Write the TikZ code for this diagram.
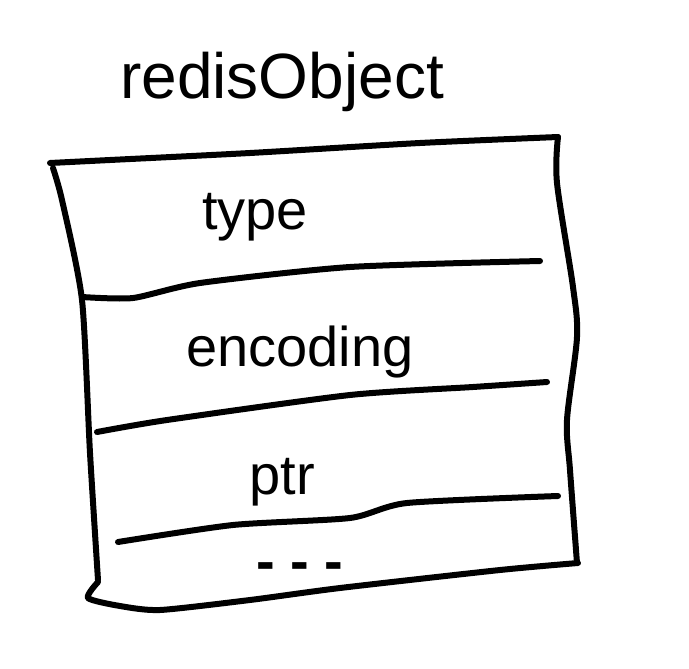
\documentclass[tikz,border=0pt]{standalone}
\usepackage{fontspec}
\setmainfont{Liberation Sans}
\usetikzlibrary{positioning}

\begin{document}
\begin{tikzpicture}[x=1pt, y=-1pt,
    rim/.style={line width=6pt, line cap=round, line join=round},
    field/.style={font=\fontsize{56}{62}\selectfont, inner sep=0pt},
    caption/.style={font=\fontsize{64}{70}\selectfont, inner sep=0pt},
  ]
  \useasboundingbox (0,0) rectangle (689,669);
  % title
  \node[caption] (title) at (282,82) {redisObject};
  % outline of the box
  \draw[rim] plot[smooth, tension=0.4] coordinates {(50,163) (110,160) (250,153) (420,143) (558,137)};
  \draw[rim] plot[smooth, tension=0.5] coordinates {(558,137) (557,183) (573,287) (577,337) (567,420) (570,470) (577,563)};
  \draw[rim] plot[smooth, tension=0.4] coordinates {(53,168) (62,200) (82,300) (90,453) (98,580)};
  \draw[rim] plot[smooth, tension=0.4] coordinates {(98,582) (88,598) (120,606) (160,610) (250,600) (340,588) (500,570) (578,563)};
  % dividers
  \draw[rim] plot[smooth, tension=0.4] coordinates {(82,297) (133,298) (200,283) (350,267) (540,261)};
  \draw[rim] plot[smooth, tension=0.4] coordinates {(97,432) (167,420) (350,395) (473,387) (547,382)};
  \draw[rim] plot[smooth, tension=0.4] coordinates {(118,542) (233,525) (350,518) (407,503) (558,496)};
  % fields
  \node[field] (typeF) at (255,217) {type};
  \node[field] (encodingF) at (300,352) {encoding};
  \node[field] (ptrF) at (282,482) {ptr};
  \node[field, font=\fontsize{56}{62}\selectfont\bfseries] (moreF) at (300,572) {- - -};
\end{tikzpicture}
\end{document}
